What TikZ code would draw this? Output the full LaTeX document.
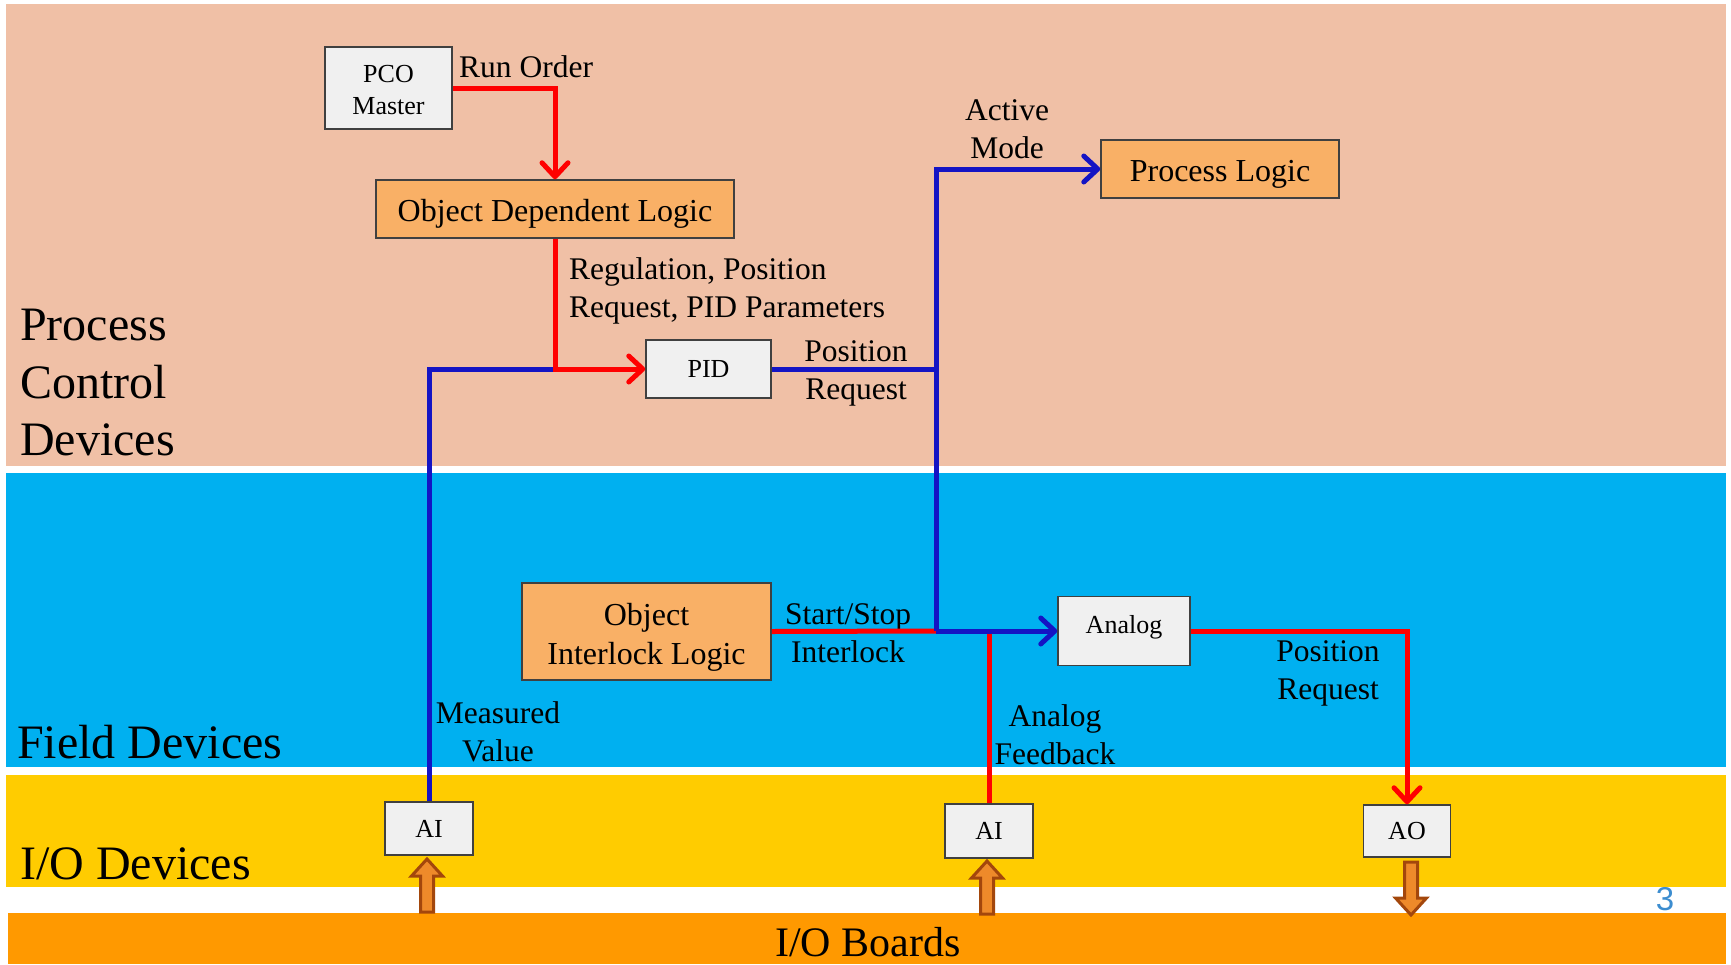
\documentclass[tikz,border=0pt]{standalone}
\usepackage{fontspec}
\setmainfont{Liberation Serif}
\newfontfamily\numfont{Liberation Sans}
\usetikzlibrary{arrows.meta}

\definecolor{bandPeach}{HTML}{F0C0A6}
\definecolor{bandBlue}{HTML}{00B0F0}
\definecolor{bandYellow}{HTML}{FFCC00}
\definecolor{bandOrange}{HTML}{FF9900}
\definecolor{boxGray}{HTML}{F0F0F0}
\definecolor{boxOrange}{HTML}{F9B066}
\definecolor{boxEdge}{HTML}{404040}
\definecolor{sigRed}{HTML}{FF0000}
\definecolor{sigBlue}{HTML}{1414C4}
\definecolor{ioFill}{HTML}{EE8A2A}
\definecolor{ioEdge}{HTML}{A3470C}
\definecolor{pageNum}{HTML}{3C8DD0}

\begin{document}
\begin{tikzpicture}[x=1pt,y=-1pt,
  box/.style={draw=boxEdge, line width=1.5pt, inner sep=0pt, align=center},
  graybox/.style={box, fill=boxGray, font=\fontsize{26}{32}\selectfont},
  logicbox/.style={box, fill=boxOrange, font=\fontsize{32}{39}\selectfont},
  lbl/.style={inner sep=0pt, align=center, font=\fontsize{31.5}{38}\selectfont},
  bandlbl/.style={inner sep=0pt, align=left, anchor=west, font=\fontsize{48}{57.5}\selectfont},
  sig/.style={line width=5pt},
  redsig/.style={sig, draw=sigRed},
  bluesig/.style={sig, draw=sigBlue},
  tip/.style={-{Straight Barb[length=14pt,width=26pt,round]}},
  ioarrow/.style={draw=ioEdge, fill=ioFill, line width=3pt, line join=miter},
  ioup/.pic={\draw[ioarrow] (-6.5,0) -- (-6.5,-36) -- (-15.5,-36) -- (0,-53)
      -- (15.5,-36) -- (6.5,-36) -- (6.5,0) -- cycle;},
  iodown/.pic={\draw[ioarrow] (-6.5,0) -- (-6.5,36) -- (-15.5,36) -- (0,53)
      -- (15.5,36) -- (6.5,36) -- (6.5,0) -- cycle;}
]
% page and layer bands
\useasboundingbox (0,0) rectangle (1731,964);
\fill[white] (0,0) rectangle (1731,964);
\fill[bandPeach]  (6,4)   rectangle (1726,466);
\fill[bandBlue]   (6,473) rectangle (1726,767);
\fill[bandYellow] (6,775) rectangle (1726,887);
\fill[bandOrange] (8,913) rectangle (1726,964);

% layer titles
\node[bandlbl] (pcd) at (20,383) {Process\\Control\\Devices};
\node[bandlbl] (fd)  at (17,742) {Field Devices};
\node[bandlbl] (iod) at (20,864) {I/O Devices};
\node[inner sep=0pt, font=\fontsize{42}{50}\selectfont] (iob) at (868,942) {I/O Boards};
\node[inner sep=0pt, text=pageNum, font=\numfont\fontsize{33}{33}\selectfont] (pg) at (1665,899) {3};

% blocks
\node[graybox, minimum width=127pt, minimum height=82pt, text height=54pt] (pco) at (388.5,88) {PCO\\Master};
\node[logicbox, minimum width=358pt, minimum height=58pt, text height=31pt, text depth=7pt] (odl) at (555,209) {Object Dependent Logic};
\node[graybox, minimum width=125pt, minimum height=58pt] (pid) at (708.5,369) {PID};
\node[logicbox, minimum width=238pt, minimum height=58pt, text height=31pt, text depth=7pt] (proc) at (1220,169) {Process Logic};
\node[logicbox, minimum width=249pt, minimum height=97pt, text height=72pt, text depth=7pt] (oil) at (646.5,631.5) {Object\\Interlock Logic};
\node[graybox, minimum width=132pt, minimum height=69pt, text height=18pt, text depth=14pt] (ana) at (1124,631) {Analog};
\node[graybox, minimum width=88pt, minimum height=53pt] (ai1) at (429,828.5) {AI};
\node[graybox, minimum width=88pt, minimum height=54pt] (ai2) at (989,831) {AI};
\node[graybox, minimum width=87pt, minimum height=52pt] (ao) at (1407,831) {AO};

% signal labels
\node[lbl, anchor=west] (runorder) at (459,67) {Run Order};
\node[lbl, anchor=west, align=left] (regl) at (569,291) {Regulation, Position\\Request, PID Parameters};
\node[lbl] (posreqA) at (856,373) {Position\\Request};
\node[lbl] (mode) at (1007,129.5) {Active\\Mode};
\node[lbl] (startstop) at (848,633.5) {Start/Stop\\Interlock};
\node[lbl] (posreqB) at (1328,673) {Position\\Request};
\node[lbl] (meas) at (498,731.5) {Measured\\Value};
\node[lbl] (fbk) at (1055,735) {Analog\\Feedback};

% junction points
\coordinate (jn) at (odl.south |- pid.west);
\coordinate (bus) at (936,631);

% connectors
\draw[redsig, tip] (pco.east) -| (odl.north);
\draw[bluesig] (ai1.north) |- (jn);
\draw[redsig, tip] (odl.south) |- (pid.west);
\draw[bluesig] (pid.east) -- (pid.east -| bus);
\draw[redsig] (oil.east) -- (bus);
\draw[redsig] (ai2.north) -- (ai2.north |- ana.west);
\draw[bluesig, tip] (bus) |- (proc.west);
\draw[bluesig, tip] (bus) -- (ana.west);
\draw[redsig, tip] (ana.east) -| (ao.north);

% transfer arrows between boards and modules
\pic at (427,912) {ioup};
\pic at (987,914) {ioup};
\pic at (1411,862) {iodown};
\end{tikzpicture}
\end{document}
